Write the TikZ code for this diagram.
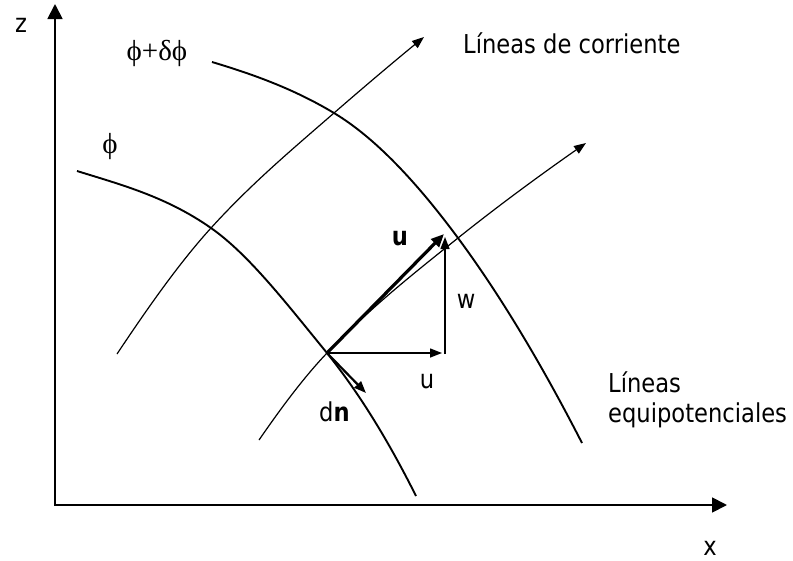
\documentclass[tikz,border=0pt]{standalone}
\usepackage{fontspec}
\setmainfont[FakeStretch=0.87]{DejaVu Sans}
\newfontfamily\grk{Liberation Serif}
\usetikzlibrary{arrows.meta}
\begin{document}
\begin{tikzpicture}[x=1pt,y=-1pt,
  axis/.style={line width=1.8pt, {Triangle[length=15pt,width=15pt]}-{Triangle[length=15pt,width=15pt]}},
  equip/.style={line width=1.9pt},
  stream/.style={line width=1.2pt, -{Triangle[length=12pt,width=9pt]}},
  vec/.style={line width=1.4pt, -{Triangle[length=12pt,width=9pt]}},
  bvec/.style={line width=3.2pt, -{Triangle[length=13pt,width=11pt]}},
  dvec/.style={line width=2.2pt, -{Triangle[length=12pt,width=9pt]}},
  lbl/.style={font=\fontsize{26}{30}\selectfont, inner sep=0pt},
  glbl/.style={font=\fontsize{29}{32}\selectfont\grk, inner sep=0pt}
]
\useasboundingbox (0,0) rectangle (793,560);
% axes
\coordinate (O) at (55,505);
\coordinate (ztip) at (55,4);
\coordinate (xtip) at (727,505);
\draw[axis] (ztip) -- (O) -- (xtip);
\node[lbl, anchor=base] (zl) at (21,32) {z};
\node[lbl, anchor=base] (xl) at (710,555) {x};
% equipotential lines
\coordinate (e1a) at (212,62);
\coordinate (e1b) at (334,113);
\coordinate (e1c) at (458,238);
\coordinate (e1d) at (582,443);
\draw[equip] (e1a) .. controls (252.7,74.2) and (293.3,88.6) .. (e1b)
  .. controls (375.3,137.8) and (416.7,182.2) .. (e1c)
  .. controls (499.3,293.8) and (540.7,362.4) .. (e1d);
\coordinate (e0a) at (77,171);
\coordinate (e0b) at (211,228);
\coordinate (P) at (327,353);
\coordinate (e0d) at (416,496);
\draw[equip] (e0a) .. controls (121.7,184.9) and (166.3,196.7) .. (e0b)
  .. controls (249.3,254.8) and (287.7,305.1) .. (P)
  .. controls (357,390.5) and (386,436) .. (e0d);
\node[glbl] (phi2) at (157,53) {ϕ+δϕ};
\node[glbl] (phi1) at (110,147) {ϕ};
% streamlines
\coordinate (s1a) at (117,354);
\coordinate (s1d) at (424,37);
\draw[stream] (s1a) .. controls (148.3,307) and (179.7,262.4) .. (e0b)
  .. controls (252,182.9) and (293,148.7) .. (e1b)
  .. controls (364,86.9) and (394,61.6) .. (s1d);
\coordinate (s2a) at (259,440);
\coordinate (s2d) at (586,143);
\draw[stream] (s2a) .. controls (281.7,407.1) and (304.3,376.8) .. (P)
  .. controls (370.7,307.1) and (414.3,273) .. (e1c)
  .. controls (500.7,203.8) and (543.3,172.9) .. (s2d);
\node[lbl, anchor=base west] (lc) at (463,53) {Líneas de corriente};
\node[lbl, anchor=base west, align=left] (le) at (608,422) {Líneas\\equipotenciales};
% vectors
\coordinate (Q) at (445,354);
\coordinate (Qu) at (442,353);
\coordinate (T) at (444,234);
\coordinate (Tw) at (445,237);
\coordinate (N) at (366,393);
\draw[bvec] (P) -- (T);
\draw[vec] (P) -- (Qu);
\draw[vec] (Q) -- (Tw);
\draw[dvec] (P) -- (N);
\node[lbl, anchor=base] (ub) at (400,245) {\textbf{u}};
\node[lbl, anchor=base] (wl) at (466,308) {w};
\node[lbl, anchor=base] (ul) at (427,388) {u};
\node[lbl, anchor=base west] (dn) at (319,421) {d\textbf{n}};
\end{tikzpicture}
\end{document}
